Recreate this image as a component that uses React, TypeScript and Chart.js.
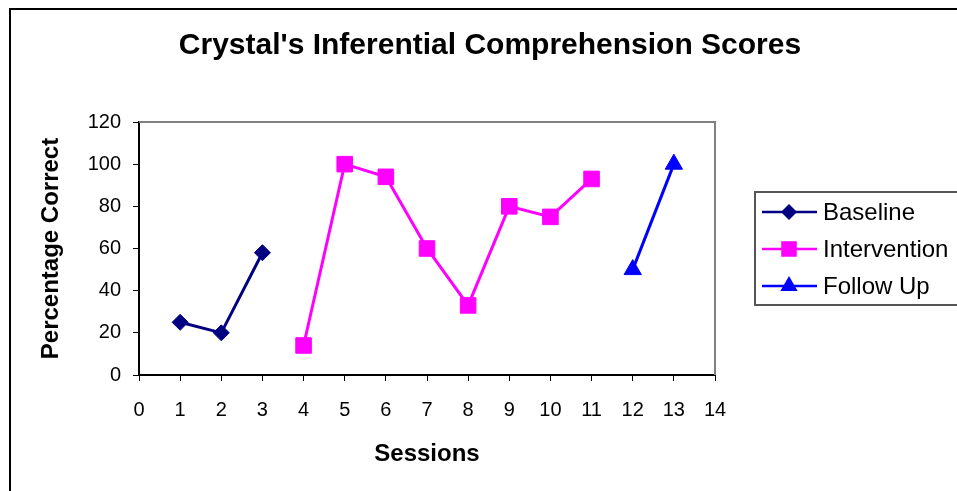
import React, { useEffect, useRef } from 'react';
import { Chart, registerables } from 'chart.js';

Chart.register(...registerables);

const TITLE = "Crystal's Inferential Comprehension Scores";
const X_TITLE = 'Sessions';
const Y_TITLE = 'Percentage Correct';
const SERIES_NAMES = ['Baseline', 'Intervention', 'Follow Up'];
const SERIES_COLORS = ['#000080', '#FF00FF', '#0000FF'];
const SERIES_MARKERS = ['rectRot', 'rect', 'triangle'];
const BASELINE_SESSIONS = [1, 2, 3];
const BASELINE_SCORES = [25, 20, 58];
const INTERVENTION_SESSIONS = [4, 5, 6, 7, 8, 9, 10, 11];
const INTERVENTION_SCORES = [14, 100, 94, 60, 33, 80, 75, 93];
const FOLLOWUP_SESSIONS = [12, 13];
const FOLLOWUP_SCORES = [50, 100];
const X_MIN = 0;
const X_MAX = 14;
const Y_MIN = 0;
const Y_MAX = 120;
const Y_STEP = 20;

const FONT = '"Liberation Sans", Arial, sans-serif';
const W = 957;
const H = 491;
const RADII = [8, 11, 10];

const toPoints = (xs: number[], ys: number[]) => xs.map((x, i) => ({ x, y: ys[i] }));

function drawMarker(ctx: CanvasRenderingContext2D, style: string, x: number, y: number, r: number) {
  ctx.beginPath();
  if (style === 'rectRot') {
    ctx.moveTo(x, y - r);
    ctx.lineTo(x + r, y);
    ctx.lineTo(x, y + r);
    ctx.lineTo(x - r, y);
  } else if (style === 'rect') {
    const s = r * Math.SQRT1_2;
    ctx.rect(x - s, y - s, 2 * s, 2 * s);
  } else {
    const h = r * 1.5;
    const side = r * Math.sqrt(3);
    ctx.moveTo(x, y - r);
    ctx.lineTo(x + side / 2, y - r + h);
    ctx.lineTo(x - side / 2, y - r + h);
  }
  ctx.closePath();
  ctx.fill();
}

const decorPlugin = {
  id: 'decor',
  beforeDatasetsDraw(chart: any) {
    const { ctx, chartArea: a } = chart;
    ctx.save();
    ctx.strokeStyle = '#808080';
    ctx.lineWidth = 2;
    ctx.beginPath();
    ctx.moveTo(a.left, a.top);
    ctx.lineTo(a.right, a.top);
    ctx.lineTo(a.right, a.bottom);
    ctx.stroke();
    ctx.restore();
  },
  afterDraw(chart: any) {
    const { ctx } = chart;
    ctx.save();
    // outer frame
    ctx.fillStyle = '#000';
    ctx.fillRect(9, 8, 2, H - 8);
    ctx.fillRect(9, 8, W - 9, 2);
    // title
    ctx.fillStyle = '#000';
    ctx.font = `bold 30px ${FONT}`;
    ctx.textAlign = 'center';
    ctx.textBaseline = 'middle';
    ctx.fillText(TITLE, 490, 46);
    // legend
    const lx = 755, ly = 192, lw = 230, lh = 113;
    ctx.strokeStyle = '#555';
    ctx.lineWidth = 2;
    ctx.strokeRect(lx, ly, lw, lh);
    chart.data.datasets.forEach((ds: any, i: number) => {
      const cy = 212 + i * 37;
      ctx.strokeStyle = ds.borderColor;
      ctx.lineWidth = 2.5;
      ctx.beginPath();
      ctx.moveTo(762, cy);
      ctx.lineTo(817, cy);
      ctx.stroke();
      ctx.fillStyle = ds.backgroundColor;
      drawMarker(ctx, ds.pointStyle, 789, cy, RADII[i]);
      ctx.fillStyle = '#000';
      ctx.font = `24px ${FONT}`;
      ctx.textAlign = 'left';
      ctx.textBaseline = 'middle';
      ctx.fillText(ds.label, 823, cy + 1);
    });
    ctx.restore();
  },
};

export default function App() {
  const ref = useRef<HTMLCanvasElement>(null);
  useEffect(() => {
    if (!ref.current) return;
    const seriesX = [BASELINE_SESSIONS, INTERVENTION_SESSIONS, FOLLOWUP_SESSIONS];
    const seriesY = [BASELINE_SCORES, INTERVENTION_SCORES, FOLLOWUP_SCORES];
    const chart = new Chart(ref.current, {
      type: 'line',
      data: {
        datasets: SERIES_NAMES.map((name, i) => ({
          label: name,
          data: toPoints(seriesX[i], seriesY[i]),
          borderColor: SERIES_COLORS[i],
          backgroundColor: SERIES_COLORS[i],
          pointBackgroundColor: SERIES_COLORS[i],
          pointBorderColor: SERIES_COLORS[i],
          pointBorderWidth: 1,
          pointStyle: SERIES_MARKERS[i] as any,
          pointRadius: RADII[i],
          borderWidth: 3,
          tension: 0,
        })),
      },
      options: {
        responsive: false,
        animation: false,
        devicePixelRatio: 1,
        layout: { padding: { left: 0, top: 122, right: W - 715, bottom: 0 } },
        plugins: {
          legend: { display: false },
          title: { display: false },
          tooltip: { enabled: false },
        },
        scales: {
          x: {
            type: 'linear',
            min: X_MIN,
            max: X_MAX,
            afterFit: (s: any) => { s.height = H - 375; },
            ticks: { stepSize: 1, color: '#000', font: { family: FONT, size: 20 }, padding: 17, maxRotation: 0, autoSkip: false },
            grid: { drawOnChartArea: false, tickLength: 6, color: '#000', tickColor: '#000' },
            border: { color: '#000', width: 2 },
            title: { display: true, text: X_TITLE, color: '#000', font: { family: FONT, size: 24, weight: 'bold' }, padding: { top: 0, bottom: 22 } },
          },
          y: {
            min: Y_MIN,
            max: Y_MAX,
            afterFit: (s: any) => { s.width = 139; },
            ticks: { stepSize: Y_STEP, color: '#000', font: { family: FONT, size: 20 }, padding: 12 },
            grid: { drawOnChartArea: false, tickLength: 6, color: '#000', tickColor: '#000' },
            border: { color: '#000', width: 2 },
            title: { display: true, text: Y_TITLE, color: '#000', font: { family: FONT, size: 24, weight: 'bold' }, padding: { top: 37, bottom: 0 } },
          },
        },
      },
      plugins: [decorPlugin],
    });
    return () => chart.destroy();
  }, []);
  return (
    <div style={{ position: 'fixed', left: 0, top: 0, width: W, height: H, background: '#fff' }}>
      <canvas ref={ref} width={W} height={H} style={{ display: 'block' }} />
    </div>
  );
}
